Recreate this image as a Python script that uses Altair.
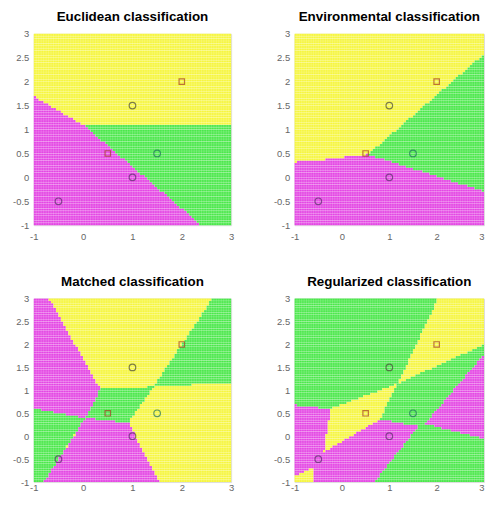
import altair as alt
import pandas as pd

# ---------------- data ----------------
titles = ["Euclidean classification", "Environmental classification",
          "Matched classification", "Regularized classification"]

x_ticks = [-1, 0, 1, 2, 3]
y_ticks = [-1, -0.5, 0, 0.5, 1, 1.5, 2, 2.5, 3]

class_colors = {"magenta": "#e446e4", "yellow": "#f6f63e", "green": "#4ae84a"}

# region outlines (class, polygon vertices), painted in order over a background class
euclid_bg = "yellow"
euclid_green = [(0, 1.1), (3, 1.1), (3, -1), (2.4, -1)]
euclid_magenta = [(-1, -1), (2.4, -1), (0, 1.1), (-1, 1.7)]

env_bg = "yellow"
env_green = [(0.55, 0.48), (3, 2.58), (3, -0.29)]
env_magenta = [(-1, -1), (3, -1), (3, -0.29), (0.55, 0.48), (0, 0.42), (-0.5, 0.36), (-1, 0.32)]

match_bg = "yellow"
match_magenta_ul = [(-1, 3), (-0.69, 3), (0.35, 1.03), (0.05, 0.4), (-1, 0.61)]
match_green_l = [(-1, 0.61), (0.05, 0.4), (-0.79, -1), (-1, -1)]
match_magenta_lo = [(0.05, 0.4), (0.92, 0.29), (1.55, -1), (-0.79, -1)]
match_green_c = [(0.05, 0.4), (0.35, 1.03), (1.43, 1.08), (0.92, 0.29)]
match_green_ur = [(1.43, 1.08), (2.62, 3), (3, 3), (3, 1.17)]

reg_bg = "green"
reg_yellow_ur = [(2.03, 3), (3, 3), (3, 2.0), (1.18, 1.15)]
reg_yellow_c = [(-0.24, 0.6), (1.18, 1.15), (0.8, 0.37), (-0.38, -0.34)]
reg_magenta_l = [(-1, 0.68), (-0.24, 0.6), (-0.38, -0.34), (0.8, 0.37), (1.62, 0.22), (0.68, -1), (-1, -1)]
reg_magenta_r = [(3, 1.78), (1.75, 0.27), (3, -0.05)]
reg_yellow_ll = [(-1, -0.88), (-0.62, -0.68), (-0.62, -1), (-1, -1)]

panels = [
    (euclid_bg, [("green", euclid_green), ("magenta", euclid_magenta)]),
    (env_bg, [("green", env_green), ("magenta", env_magenta)]),
    (match_bg, [("magenta", match_magenta_ul), ("green", match_green_l),
                ("magenta", match_magenta_lo), ("green", match_green_c),
                ("green", match_green_ur)]),
    (reg_bg, [("yellow", reg_yellow_ur), ("yellow", reg_yellow_c),
              ("magenta", reg_magenta_l), ("magenta", reg_magenta_r),
              ("yellow", reg_yellow_ll)]),
]

circle_x = [-0.5, 1, 1, 1.5]
circle_y = [-0.5, 0, 1.5, 0.5]
circle_col = ["#5a2f6a", "#5a2f6a", "#4a4a3a", "#1f6f5f"]
square_x = [0.5, 2]
square_y = [0.5, 2]

# ---------------- grid rasterisation of the regions ----------------
N = 80
LO, HI = -1.0, 3.0
step = (HI - LO) / N


def inside(px, py, poly):
    c = False
    n = len(poly)
    for i in range(n):
        x1, y1 = poly[i]
        x2, y2 = poly[(i + 1) % n]
        if (y1 > py) != (y2 > py):
            xi = x1 + (py - y1) * (x2 - x1) / (y2 - y1)
            if px < xi:
                c = not c
    return c


def cells(bg, polys):
    rows = []
    for j in range(N):
        yc = LO + (j + 0.5) * step
        run_cls, run_start = None, 0
        for i in range(N + 1):
            if i < N:
                xc = LO + (i + 0.5) * step
                cls = bg
                for name, poly in polys:
                    if inside(xc, yc, poly):
                        cls = name
            else:
                cls = None
            if cls != run_cls:
                if run_cls is not None:
                    rows.append({"x": LO + run_start * step, "x2": LO + i * step,
                                 "y": LO + j * step, "y2": LO + (j + 1) * step,
                                 "c": class_colors[run_cls]})
                run_cls, run_start = cls, i
    return pd.DataFrame(rows)


grid_lines = pd.DataFrame({"v": [LO + k * step for k in range(1, N)]})
circles = pd.DataFrame({"x": circle_x, "y": circle_y, "c": circle_col})
squares = pd.DataFrame({"x": square_x, "y": square_y})

FONT = "Liberation Sans"


def axis(vals, pad, right_end=False):
    kw = {}
    if right_end:
        kw["labelAlign"] = {"condition": {"test": "datum.value == 3", "value": "right"},
                            "value": "center"}
    return alt.Axis(values=vals, labelExpr="toString(datum.value)", title=None,
                    ticks=False, domain=False, grid=False, labelFontSize=9.5,
                    labelColor="#666666", labelFont=FONT, labelPadding=pad,
                    labelOverlap=False, labelFlush=False, **kw)


def panel(idx, width, height, xpad, right_end):
    bg, polys = panels[idx]
    xs = alt.Scale(domain=[LO, HI], nice=False, zero=False)
    ys = alt.Scale(domain=[LO, HI], nice=False, zero=False)
    xa = axis(x_ticks, xpad, right_end)
    ya = axis(y_ticks, 5)
    rects = alt.Chart(cells(bg, polys)).mark_rect().encode(
        x=alt.X("x:Q", scale=xs, axis=xa), x2="x2:Q",
        y=alt.Y("y:Q", scale=ys, axis=ya), y2="y2:Q",
        color=alt.Color("c:N", scale=None),
    )
    vlines = alt.Chart(grid_lines).mark_rule(color="white", opacity=0.3, strokeWidth=0.6).encode(
        x=alt.X("v:Q", scale=xs, axis=xa))
    hlines = alt.Chart(grid_lines).mark_rule(color="white", opacity=0.3, strokeWidth=0.6).encode(
        y=alt.Y("v:Q", scale=ys, axis=ya))
    circ = alt.Chart(circles).mark_point(shape="circle", filled=False, size=44, strokeWidth=1.2).encode(
        x=alt.X("x:Q", scale=xs, axis=xa), y=alt.Y("y:Q", scale=ys, axis=ya),
        color=alt.Color("c:N", scale=None))
    sq = alt.Chart(squares).mark_point(shape="square", filled=False, size=30, strokeWidth=1.2,
                                        color="#a53c22").encode(
        x=alt.X("x:Q", scale=xs, axis=xa), y=alt.Y("y:Q", scale=ys, axis=ya))
    return alt.layer(rects, vlines, hlines, circ, sq).properties(
        width=width, height=height,
        title=alt.TitleParams(titles[idx], font=FONT, fontSize=13.5, fontWeight="bold",
                              color="black", offset=5),
    )


top = alt.hconcat(panel(0, 199, 193, 6, False), panel(1, 191, 193, 6, True), spacing=38)
bottom = alt.hconcat(panel(2, 199, 185, 1, False), panel(3, 191, 185, 1, True), spacing=38)
chart = alt.vconcat(top, bottom, spacing=34).properties(
    padding={"left": 4, "top": 0, "right": 0, "bottom": 0}
).configure_view(stroke=None).configure(background="white")

chart.save("out.html", embed_options={"renderer": "svg", "actions": False})
